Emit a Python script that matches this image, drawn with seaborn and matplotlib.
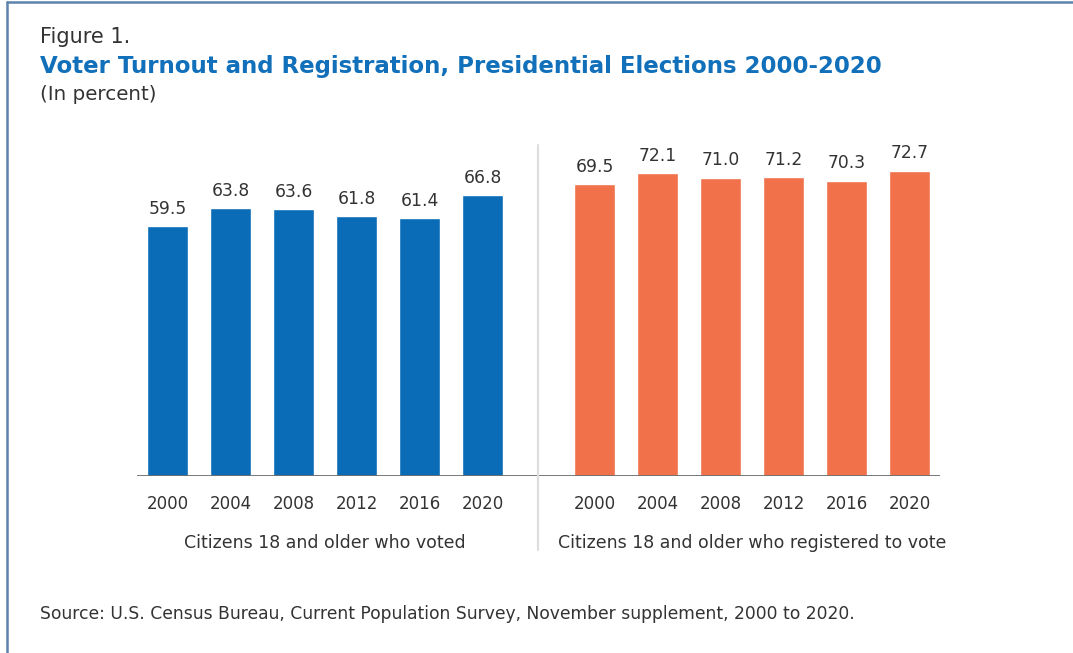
import matplotlib
matplotlib.use("Agg")
import matplotlib.pyplot as plt
from matplotlib.lines import Line2D
import seaborn as sns
import pandas as pd

years = ["2000", "2004", "2008", "2012", "2016", "2020"]
voted = [59.5, 63.8, 63.6, 61.8, 61.4, 66.8]
registered = [69.5, 72.1, 71.0, 71.2, 70.3, 72.7]
group_labels = ["Citizens 18 and older who voted",
                "Citizens 18 and older who registered to vote"]

BLUE = "#0a6cb6"
ORANGE = "#f0714a"
TITLE_BLUE = "#1170b9"
TEXT = "#333333"
FONT = "DejaVu Sans"

sns.set_theme(style="white")
plt.rcParams["font.family"] = [FONT]

W, H = 1073, 653
fig = plt.figure(figsize=(W / 100, H / 100), dpi=100)


def px_rect(x0, x1, y_top, y_bot):
    return [x0 / W, 1 - y_bot / H, (x1 - x0) / W, (y_bot - y_top) / H]


y_top_px, y_base_px = 140, 476
ymax = (y_base_px - y_top_px) / 4.2

ax1 = fig.add_axes(px_rect(137, 538, y_top_px, y_base_px))
ax2 = fig.add_axes(px_rect(538, 940, y_top_px, y_base_px))

df1 = pd.DataFrame({"year": years, "value": voted})
df2 = pd.DataFrame({"year": years, "value": registered})

sns.barplot(data=df1, x="year", y="value", color=BLUE, saturation=1,
            width=0.65, ax=ax1)
sns.barplot(data=df2, x="year", y="value", color=ORANGE, saturation=1,
            width=0.65, ax=ax2)

ax1.set_xlim(-0.484, 5.88)
ax2.set_xlim(-0.897, 5.484)

for ax, label in [(ax1, group_labels[0]), (ax2, group_labels[1])]:
    ax.set_ylim(0, ymax)
    ax.set_yticks([])
    ax.set_xlabel("")
    ax.set_ylabel("")
    for s in ax.spines.values():
        s.set_visible(False)
    ax.axhline(0, color="#6e6e6e", lw=1.3, zorder=3)
    ax.tick_params(axis="x", length=0, pad=14, labelsize=12, labelcolor=TEXT)
    for c in ax.containers:
        ax.bar_label(c, fmt="%.1f", padding=6, fontsize=12.3, color=TEXT)
    ax.patch.set_alpha(0)

# group captions centred under each set of bars
for ax, label in [(ax1, group_labels[0]), (ax2, group_labels[1])]:
    ax.text(2.5, -67 / 4.2, label, ha="center", va="center",
            fontsize=12.5, color=TEXT, transform=ax.transData, clip_on=False)

# separator between the two groups
fig.add_artist(Line2D([538 / W, 538 / W], [1 - 145 / H, 1 - 550 / H],
                      color="#dddddd", lw=1.5, transform=fig.transFigure))

# frame on the left and top edges
fig.add_artist(Line2D([7 / W, 7 / W], [0, 1 - 2 / H], color="#5d83ad",
                      lw=1.8, transform=fig.transFigure))
fig.add_artist(Line2D([7 / W, 1], [1 - 2 / H, 1 - 2 / H], color="#5d83ad",
                      lw=1.8, transform=fig.transFigure))

fig.text(40 / W, 1 - 37 / H, "Figure 1.", ha="left", va="center",
         fontsize=15, color=TEXT)
fig.text(40 / W, 1 - 66 / H,
         "Voter Turnout and Registration, Presidential Elections 2000-2020",
         ha="left", va="center", fontsize=16.5, fontweight="bold",
         color=TITLE_BLUE)
fig.text(40 / W, 1 - 95 / H, "(In percent)", ha="left", va="center",
         fontsize=14.3, color=TEXT)
fig.text(40 / W, 1 - 614 / H,
         "Source: U.S. Census Bureau, Current Population Survey, "
         "November supplement, 2000 to 2020.",
         ha="left", va="center", fontsize=12.3, color=TEXT)

fig.savefig("out.png", dpi=100)
